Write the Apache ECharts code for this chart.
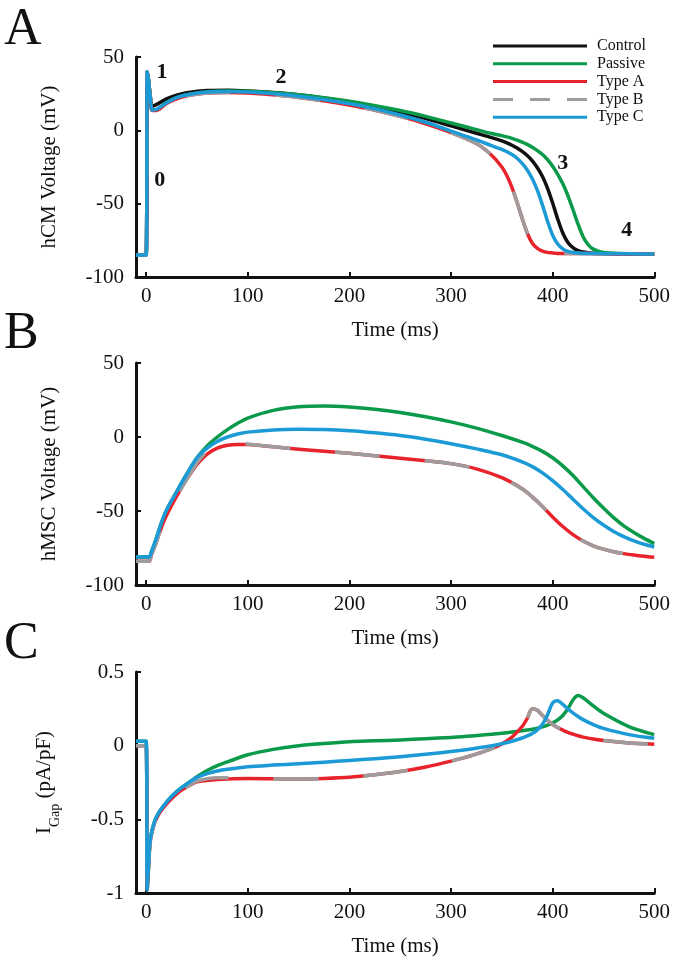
<!DOCTYPE html>
<html><head><meta charset="utf-8">
<script src="https://cdn.jsdelivr.net/npm/echarts@6/dist/echarts.min.js"></script>
<style>html,body{margin:0;padding:0;background:#fff}#c{width:673px;height:963px}</style>
</head><body><div id="c"></div>
<script>
// ---------------- DATA ----------------
const seriesNames = ['Control', 'Passive', 'Type A', 'Type B', 'Type C'];
const xTicks = [0, 100, 200, 300, 400, 500];

// Panel A: hCM voltage (mV)
const tA = [-10, 0, 1, 2, 4, 6, 10, 20, 30, 40, 60, 80, 100, 130, 160, 190, 220, 250, 275, 300, 325, 340, 350, 355, 360, 365, 370, 375, 380, 385, 390, 395, 400, 405, 410, 415, 420, 425, 430, 435, 440, 450, 475, 500];
const controlA = [-85, -85, 40, 36, 24, 16.5, 17.5, 21.5, 24, 25.7, 27.2, 27.4, 26.9, 25.6, 23.5, 20.6, 17, 12.5, 8, 3, -2, -5, -7.2, -8.6, -10.2, -12.1, -14.4, -17.2, -20.8, -25.5, -31.5, -39.5, -49.5, -60.5, -70, -76.5, -80, -82, -83, -83.5, -83.8, -84, -84.2, -84.3];
const passiveA = [-85, -85, 40, 36, 23, 13.8, 14, 19, 22.3, 24.3, 26.3, 26.8, 26.6, 25.5, 23.6, 20.8, 17.5, 13.5, 9.5, 5, 0.5, -2.2, -3.6, -4.5, -5.5, -6.7, -8, -9.6, -11.5, -13.8, -16.5, -20, -24.5, -30, -36.5, -44.5, -54, -64, -72.5, -78, -81, -83.3, -84.2, -84.3];
const typeAA = [-85, -85, 40, 36, 23, 13.5, 13.5, 18.3, 21.5, 23.5, 25.4, 25.8, 25.4, 23.9, 21.6, 18.5, 14.5, 9.5, 4.5, -1.5, -9, -17, -25, -31, -39, -49, -60, -70, -77, -80.5, -82.3, -83.2, -83.6, -83.9, -84, -84, -84, -84, -84, -84, -84.1, -84.2, -84.3, -84.3];
const typeBA = [-85, -85, 40, 36, 23, 13.5, 13.5, 18.3, 21.5, 23.5, 25.4, 25.8, 25.4, 23.9, 21.6, 18.5, 14.5, 9.5, 4.5, -1.5, -9, -17, -25, -31, -39, -49, -60, -70, -77, -80.5, -82.3, -83.2, -83.6, -83.9, -84, -84, -84, -84, -84, -84, -84.1, -84.2, -84.3, -84.3];
const typeCA = [-85, -85, 40, 36, 23, 13.8, 14.2, 18.8, 22.3, 24.3, 26.2, 26.5, 26.1, 24.7, 22.4, 19.3, 15.5, 10.5, 5.5, -0.5, -6.5, -10.5, -13, -14.6, -16.5, -19, -22.5, -27, -33, -41, -51, -62, -71.5, -77.5, -80.8, -82.5, -83.3, -83.7, -83.9, -84, -84, -84.1, -84.2, -84.3];

// Panel B: hMSC voltage (mV)
const tB = [-10, 0, 3, 5, 10, 15, 20, 30, 40, 50, 60, 70, 80, 90, 100, 125, 150, 175, 200, 225, 250, 275, 300, 325, 350, 370, 380, 390, 400, 410, 420, 430, 440, 450, 460, 470, 480, 490, 500];
const passiveB = [-81, -81, -81, -78, -68.5, -58, -49.5, -37, -25, -14, -6, 0, 5, 9.3, 12.8, 18, 20.5, 21, 20.3, 18.8, 16.6, 13.7, 10.2, 6, 1, -3.5, -6.3, -9.7, -14, -19.5, -26, -33.5, -41, -48, -54.5, -60, -64.5, -68.5, -72];
const typeAB = [-84, -84, -84, -80, -71, -61, -53, -40, -28.5, -18.5, -11.5, -7.5, -5.6, -5, -5.1, -6.6, -8.3, -9.7, -11, -12.6, -14.3, -16, -18, -21.5, -27.5, -35, -40.5, -47, -54, -60.5, -66, -70.3, -73.5, -75.8, -77.5, -78.8, -79.8, -80.6, -81.2];
const typeBB = [-84, -84, -84, -80, -71, -61, -53, -40, -28.5, -17.5, -9.5, -4.5, -3, -3.5, -4.8, -6.6, -8.3, -9.7, -11, -12.6, -14.3, -16, -18, -21.5, -27.5, -35, -40.5, -47, -54, -60.5, -66, -70.3, -73.5, -75.8, -77.5, -78.8, -79.8, -80.6, -81.2];
const typeCB = [-81, -81, -81, -78, -68.5, -58, -49.5, -37, -25, -14, -7.5, -3, 0, 2, 3.3, 4.8, 5.2, 5, 4.2, 2.8, 1, -1.5, -4.5, -8, -12, -16.8, -20, -24.2, -29.5, -35.5, -42, -48.5, -54.5, -59.5, -63.8, -67.3, -70.2, -72.5, -74.3];

// Panel C: gap junction current (pA/pF)
const tC = [-10, 0, 1, 2, 4, 8, 12, 17, 25, 33, 40, 50, 60, 70, 80, 100, 125, 150, 175, 200, 225, 250, 275, 300, 320, 340, 350, 360, 370, 375, 380, 385, 390, 395, 400, 405, 410, 415, 420, 425, 430, 440, 450, 475, 500];
const passiveC = [0.03, 0.03, -0.98, -0.86, -0.64, -0.52, -0.46, -0.41, -0.345, -0.295, -0.26, -0.21, -0.168, -0.135, -0.11, -0.062, -0.025, 0, 0.015, 0.027, 0.033, 0.039, 0.047, 0.056, 0.065, 0.077, 0.084, 0.092, 0.101, 0.106, 0.112, 0.119, 0.128, 0.14, 0.155, 0.175, 0.205, 0.25, 0.31, 0.34, 0.325, 0.27, 0.22, 0.13, 0.075];
const typeAC = [0, 0, -0.98, -0.87, -0.65, -0.53, -0.47, -0.42, -0.36, -0.31, -0.28, -0.245, -0.236, -0.23, -0.226, -0.223, -0.225, -0.227, -0.223, -0.215, -0.198, -0.176, -0.145, -0.105, -0.068, -0.02, 0.012, 0.058, 0.13, 0.185, 0.25, 0.24, 0.205, 0.172, 0.145, 0.123, 0.105, 0.09, 0.078, 0.067, 0.058, 0.045, 0.035, 0.018, 0.01];
const typeBC = [0, 0, -0.98, -0.87, -0.65, -0.53, -0.47, -0.42, -0.36, -0.31, -0.28, -0.24, -0.225, -0.218, -0.218, -0.222, -0.225, -0.227, -0.223, -0.215, -0.198, -0.176, -0.145, -0.105, -0.068, -0.02, 0.012, 0.058, 0.13, 0.185, 0.25, 0.24, 0.205, 0.172, 0.145, 0.123, 0.105, 0.09, 0.078, 0.067, 0.058, 0.045, 0.035, 0.018, 0.01];
const typeCC = [0.03, 0.03, -0.98, -0.86, -0.64, -0.52, -0.46, -0.41, -0.345, -0.295, -0.26, -0.215, -0.19, -0.172, -0.16, -0.143, -0.132, -0.123, -0.112, -0.1, -0.088, -0.075, -0.059, -0.04, -0.022, 0, 0.013, 0.03, 0.052, 0.066, 0.083, 0.107, 0.145, 0.21, 0.29, 0.305, 0.28, 0.25, 0.222, 0.198, 0.177, 0.143, 0.117, 0.075, 0.05];

// Phase annotations in panel A (label, time, voltage)
const phaseLabels = ['0', '1', '2', '3', '4'];
const phaseT = [13.3, 15.7, 132.7, 410, 473];
const phaseV = [-34, 39.5, 36, -22.5, -68];

// ---------------- STYLE ----------------
const FONT = '"Liberation Serif", "Times New Roman", serif';
const colors = {'Control': '#111111', 'Passive': '#0a9a4a', 'Type A': '#e8232b', 'Type B': '#9d9d9d', 'Type C': '#1b9ad6'};
const W = 3.5;

function mk(name, t, v, gi) {
  return {
    name: name, type: 'line', xAxisIndex: gi, yAxisIndex: gi,
    data: t.map((x, i) => [x, v[i]]),
    symbol: 'none', showSymbol: false, smooth: 0.3,
    animation: false,
    lineStyle: {color: colors[name], width: W, type: name === 'Type B' ? [45, 45] : 'solid', cap: 'butt', join: 'round'},
    itemStyle: {color: colors[name]}
  };
}

const grids = [
  {left: 136, width: 519, top: 57, height: 220},
  {left: 136, width: 519, top: 363, height: 222},
  {left: 136, width: 519, top: 672, height: 221}
];

function xAx(gi) {
  return {
    type: 'value', gridIndex: gi, min: -10, max: 500,
    name: 'Time (ms)', nameLocation: 'middle', nameGap: 43,
    nameTextStyle: {fontFamily: FONT, fontSize: 21, color: '#111'},
    axisLine: {show: true, onZero: false, lineStyle: {color: '#111', width: 3}},
    axisTick: {show: true, inside: true, length: 5, lineStyle: {color: '#111', width: 2}, customValues: xTicks},
    axisLabel: {fontFamily: FONT, fontSize: 21, color: '#111', margin: 9, customValues: xTicks},
    splitLine: {show: false}
  };
}
function yAx(gi, min, max, interval, name, gap, rich) {
  const o = {
    type: 'value', gridIndex: gi, min: min, max: max, interval: interval,
    name: name, nameLocation: 'middle', nameGap: gap,
    nameTextStyle: {fontFamily: FONT, fontSize: 21, color: '#111'},
    axisLine: {show: true, onZero: false, lineStyle: {color: '#111', width: 3}},
    axisTick: {show: true, inside: true, length: 5, lineStyle: {color: '#111', width: 2}},
    axisLabel: {fontFamily: FONT, fontSize: 21, color: '#111', margin: 12},
    splitLine: {show: false}
  };
  if (rich) o.nameTextStyle.rich = rich;
  return o;
}

const series = [];
[['Control', controlA], ['Passive', passiveA], ['Type A', typeAA], ['Type B', typeBA], ['Type C', typeCA]]
  .forEach(([n, v]) => series.push(mk(n, tA, v, 0)));
[['Passive', passiveB], ['Type A', typeAB], ['Type B', typeBB], ['Type C', typeCB]]
  .forEach(([n, v]) => series.push(mk(n, tB, v, 1)));
[['Passive', passiveC], ['Type A', typeAC], ['Type B', typeBC], ['Type C', typeCC]]
  .forEach(([n, v]) => series.push(mk(n, tC, v, 2)));

const dashIcon = 'path://M0,0h20v4h-20z M37,0h20v4h-20z M74,0h20v4h-20z';
const chart = echarts.init(document.getElementById('c'), null, {renderer: 'canvas'});
const option = {
  backgroundColor: '#fff',
  animation: false,
  grid: grids,
  xAxis: [xAx(0), xAx(1), xAx(2)],
  yAxis: [
    yAx(0, -100, 50, 50, 'hCM Voltage (mV)', 76),
    yAx(1, -100, 50, 50, 'hMSC Voltage (mV)', 76),
    yAx(2, -1, 0.5, 0.5, '{m|I}{s|Gap}{m| (pA/pF)}', 74, {
      m: {fontFamily: FONT, fontSize: 21, color: '#111', lineHeight: 28, verticalAlign: 'top'},
      s: {fontFamily: FONT, fontSize: 14, color: '#111', lineHeight: 14, verticalAlign: 'bottom'}
    })
  ],
  legend: {
    orient: 'vertical', left: 493, top: 38, padding: 0,
    itemWidth: 94, itemHeight: 3, itemGap: 1.8, symbolKeepAspect: false,
    textStyle: {fontFamily: FONT, fontSize: 16, color: '#111', padding: [0, 0, 0, 5]},
    data: [
      {name: 'Control', icon: 'rect'},
      {name: 'Passive', icon: 'rect'},
      {name: 'Type A', icon: 'rect'},
      {name: 'Type B', icon: dashIcon},
      {name: 'Type C', icon: 'rect'}
    ]
  },
  series: series
};
chart.setOption(option);

// panel letters and phase numbers
const gfx = [];
[['A', 4], ['B', 308], ['C', 618]].forEach(([s, y]) => gfx.push({
  type: 'text', left: 4, top: y,
  style: {text: s, font: '52px ' + FONT, fill: '#111'}
}));
phaseLabels.forEach((s, i) => {
  const p = chart.convertToPixel({gridIndex: 0}, [phaseT[i], phaseV[i]]);
  gfx.push({type: 'text', x: p[0], y: p[1],
    style: {text: s, font: 'bold 22px ' + FONT, fill: '#111', align: 'center', verticalAlign: 'middle'}});
});
chart.setOption({graphic: gfx});
</script></body></html>
